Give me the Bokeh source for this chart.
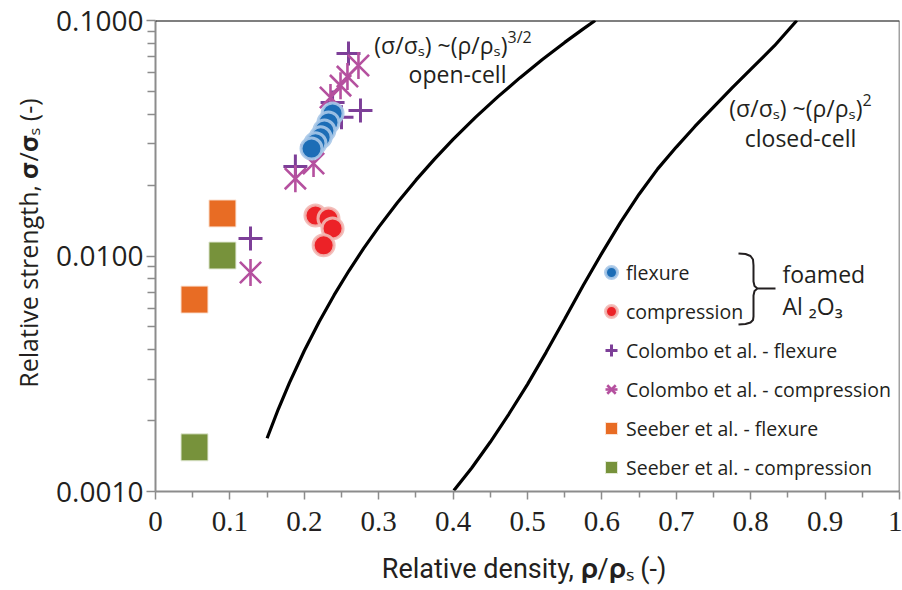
import numpy as np
from bokeh.plotting import figure
from bokeh.models import (Range1d, FixedTicker, NumeralTickFormatter, Label, Span,
                          Legend, LegendItem)
from bokeh.embed import file_html
from bokeh.resources import INLINE

# ---------------- data ----------------
foam_flex_x = [0.238, 0.2325, 0.227, 0.222, 0.215, 0.2097]
foam_flex_y = [0.0403, 0.0369, 0.0341, 0.0319, 0.0301, 0.0286]

foam_comp_x = [0.215, 0.2325, 0.238, 0.226]
foam_comp_y = [0.01485, 0.01443, 0.0131, 0.0111]

colombo_flex_x = [0.2594, 0.2755, 0.250, 0.238, 0.211, 0.188, 0.1277]
colombo_flex_y = [0.0724, 0.0415, 0.0388, 0.0449, 0.0294, 0.0240, 0.01186]

colombo_comp_x = [0.2728, 0.258, 0.2487, 0.2352, 0.2124, 0.188, 0.1277]
colombo_comp_y = [0.0644, 0.0578, 0.0529, 0.0471, 0.0247, 0.0213, 0.00851]

seeber_flex_x = [0.090, 0.0524]
seeber_flex_y = [0.01516, 0.00653]

seeber_comp_x = [0.090, 0.0524]
seeber_comp_y = [0.01005, 0.00154]

open_cell_x = [0.150, 0.165, 0.180, 0.200, 0.220, 0.240, 0.260, 0.280, 0.300, 0.325,
               0.350, 0.375, 0.400, 0.430, 0.460, 0.490, 0.520, 0.550, 0.575, 0.591]
open_cell_y = [0.001683, 0.002234, 0.002893, 0.003959, 0.005260, 0.006818, 0.008656,
               0.01080, 0.01326, 0.01683, 0.02099, 0.02577, 0.03125, 0.03878, 0.04739,
               0.05720, 0.06829, 0.08072, 0.09215, 0.1000]

closed_cell_x = [0.401, 0.425, 0.450, 0.475, 0.500, 0.525, 0.550, 0.575, 0.600, 0.625,
                 0.650, 0.675, 0.700, 0.725, 0.750, 0.775, 0.800, 0.832, 0.862]
closed_cell_y = [0.001009, 0.001259, 0.001622, 0.002133, 0.002851, 0.003899, 0.005401,
                 0.007516, 0.01029, 0.01390, 0.01830, 0.02344, 0.02901, 0.03548, 0.04290,
                 0.05176, 0.06202, 0.07816, 0.1000]

x_ticks = [0, 0.1, 0.2, 0.3, 0.4, 0.5, 0.6, 0.7, 0.8, 0.9, 1.0]
x_minor = [0.05, 0.15, 0.25, 0.35, 0.45, 0.55, 0.65, 0.75, 0.85, 0.95]
y_ticks = [0.001, 0.01, 0.1]
y_minor = [k * d for d in (0.001, 0.01) for k in range(2, 10)]

legend_labels = ["flexure", "compression", "Colombo et al. - flexure",
                 "Colombo et al. - compression", "Seeber et al. - flexure",
                 "Seeber et al. - compression"]

x_title = "Relative density,  \U0001D6D2/\U0001D6D2\u209B (-)"
y_title = "\u00a0\u00a0\u00a0\u00a0\u00a0Relative strength,  \U0001D6D4/\U0001D6D4\u209B (-)"

# ---------------- layout ----------------
W, H = 902, 590
FL, FR, FT, FB = 155, 899, 20, 491
TXT = "#231f20"
FONT = "Open Sans"
NARROW = "Liberation Sans Narrow"


def px(xp, yp):
    """pixel position in the page -> data coordinates"""
    x = (xp - FL) / (FR - FL)
    y = 10 ** (-1 - (yp - FT) / ((FB - FT) / 2.0))
    return x, y


p = figure(width=W, height=H, x_range=Range1d(0, 1), y_range=Range1d(0.001, 0.1),
           y_axis_type="log", output_backend="svg", toolbar_location=None,
           min_border_left=FL, min_border_right=W - FR, min_border_top=FT,
           min_border_bottom=H - FB)
p.outline_line_color = None
p.grid.visible = False
p.background_fill_color = "white"
p.border_fill_color = "white"

# axes
AX = "#8c8c8c"
xa = p.xaxis[0]
xa.ticker = FixedTicker(ticks=x_ticks, minor_ticks=x_minor)
xa.formatter = NumeralTickFormatter(format="0.[0]")
xa.axis_line_color = AX
xa.axis_line_width = 2
xa.major_tick_line_color = AX
xa.minor_tick_line_color = AX
xa.major_tick_line_width = 1.5
xa.minor_tick_line_width = 1.5
xa.major_tick_in = 0
xa.major_tick_out = 8
xa.minor_tick_in = 0
xa.minor_tick_out = 6
xa.major_label_text_font = NARROW
xa.major_label_text_font_size = "29px"
xa.major_label_text_color = TXT
xa.major_label_standoff = 12
xa.axis_label = x_title
xa.axis_label_text_font = "Roboto"
xa.axis_label_text_font_size = "27px"
xa.axis_label_text_font_style = "normal"
xa.axis_label_text_color = TXT
xa.axis_label_standoff = 19

ya = p.yaxis[0]
ya.ticker = FixedTicker(ticks=y_ticks, minor_ticks=y_minor)
ya.formatter = NumeralTickFormatter(format="0.0000")
ya.axis_line_color = AX
ya.axis_line_width = 2
ya.major_tick_line_color = AX
ya.minor_tick_line_color = AX
ya.major_tick_line_width = 1.5
ya.minor_tick_line_width = 1.5
ya.major_tick_in = 0
ya.major_tick_out = 9
ya.minor_tick_in = 0
ya.minor_tick_out = 8
ya.major_label_text_font = FONT
ya.major_label_text_font_size = "28px"
ya.major_label_text_color = TXT
ya.major_label_standoff = 3
ya.axis_label = y_title
ya.axis_label_text_font = FONT
ya.axis_label_text_font_size = "25px"
ya.axis_label_text_font_style = "normal"
ya.axis_label_text_color = TXT
ya.axis_label_standoff = 8

# frame top / right lines
p.add_layout(Span(location=0.1, dimension="width", line_color="black", line_width=2))
p.add_layout(Span(location=1.0, dimension="height", line_color="#444444", line_width=1.5))

# model curves
p.line(open_cell_x, open_cell_y, line_color="black", line_width=3.2)
p.line(closed_cell_x, closed_cell_y, line_color="black", line_width=3.2)

# data series
r_sf = p.scatter(seeber_flex_x, seeber_flex_y, marker="square", size=27,
                 fill_color="#e86c24", line_color="#fbe3d4", line_width=1)
r_sc = p.scatter(seeber_comp_x, seeber_comp_y, marker="square", size=27,
                 fill_color="#77923b", line_color="#e3ead6", line_width=1)
r_cf = p.scatter(colombo_flex_x, colombo_flex_y, marker="cross", size=24,
                 line_color="#7d3f98", line_width=3)
r_cc1 = p.scatter(colombo_comp_x, colombo_comp_y, marker="x", size=30,
                  line_color="#b5519f", line_width=2.6)
r_cc2 = p.scatter(colombo_comp_x, colombo_comp_y, marker="dash", size=27, angle=np.pi / 2,
                  line_color="#b5519f", line_width=2.6)
r_fc = p.scatter(foam_comp_x, foam_comp_y, marker="circle", size=21,
                 fill_color="#ec2227", line_color="#f2b8b4", line_width=3, line_alpha=0.9)
r_ff = p.scatter(foam_flex_x, foam_flex_y, marker="circle", size=21,
                 fill_color="#1c6db6", line_color="#a9c8e8", line_width=3, line_alpha=0.9)

legend = Legend(items=[
    LegendItem(label=legend_labels[0], renderers=[r_ff]),
    LegendItem(label=legend_labels[1], renderers=[r_fc]),
    LegendItem(label=legend_labels[2], renderers=[r_cf]),
    LegendItem(label=legend_labels[3], renderers=[r_cc1, r_cc2]),
    LegendItem(label=legend_labels[4], renderers=[r_sf]),
    LegendItem(label=legend_labels[5], renderers=[r_sc]),
], location=(441, 9), orientation="vertical", glyph_width=30, glyph_height=30,
    spacing=9, padding=0, margin=0, label_standoff=0,
    border_line_alpha=0, background_fill_alpha=0,
    label_text_font=FONT, label_text_font_size="19.5px", label_text_color=TXT)
p.add_layout(legend)


def label(xp, yp, text, size, align="left", font=FONT, style="normal", angle=0.0,
          baseline="middle"):
    x, y = px(xp, yp)
    p.add_layout(Label(x=x, y=y, text=text, text_font=font, text_font_size=size,
                       text_font_style=style, text_align=align, text_baseline=baseline,
                       text_color=TXT, angle=angle))


# curve annotations
label(507, 44, "(σ/σₛ) ~(ρ/ρₛ)", "23px", align="right")
label(507, 36, "3/2", "16px")
label(457, 73, "open-cell", "23px", align="center")
label(862, 107, "(σ/σₛ) ~(ρ/ρₛ)", "23px", align="right")
label(862, 99, "2", "16px")
label(800, 137, "closed-cell", "23px", align="center")

# foamed Al2O3 group
label(782, 273, "foamed", "23px")
label(782, 305, "Al ₂O₃", "23px")
brace_px = [(738, 253), (745, 253.5), (750, 255.5), (752.5, 259), (753, 265), (753, 281),
            (754, 285.5), (757, 288), (775, 288), (757, 288), (754, 290.5), (753, 295),
            (753, 316), (752.5, 319.5), (750, 322), (745, 323.5), (738, 324)]
bx, by = zip(*[px(a, b) for a, b in brace_px])
p.line(list(bx), list(by), line_color="#231f20", line_width=2)

open("out.html", "w").write(file_html(p, INLINE))
